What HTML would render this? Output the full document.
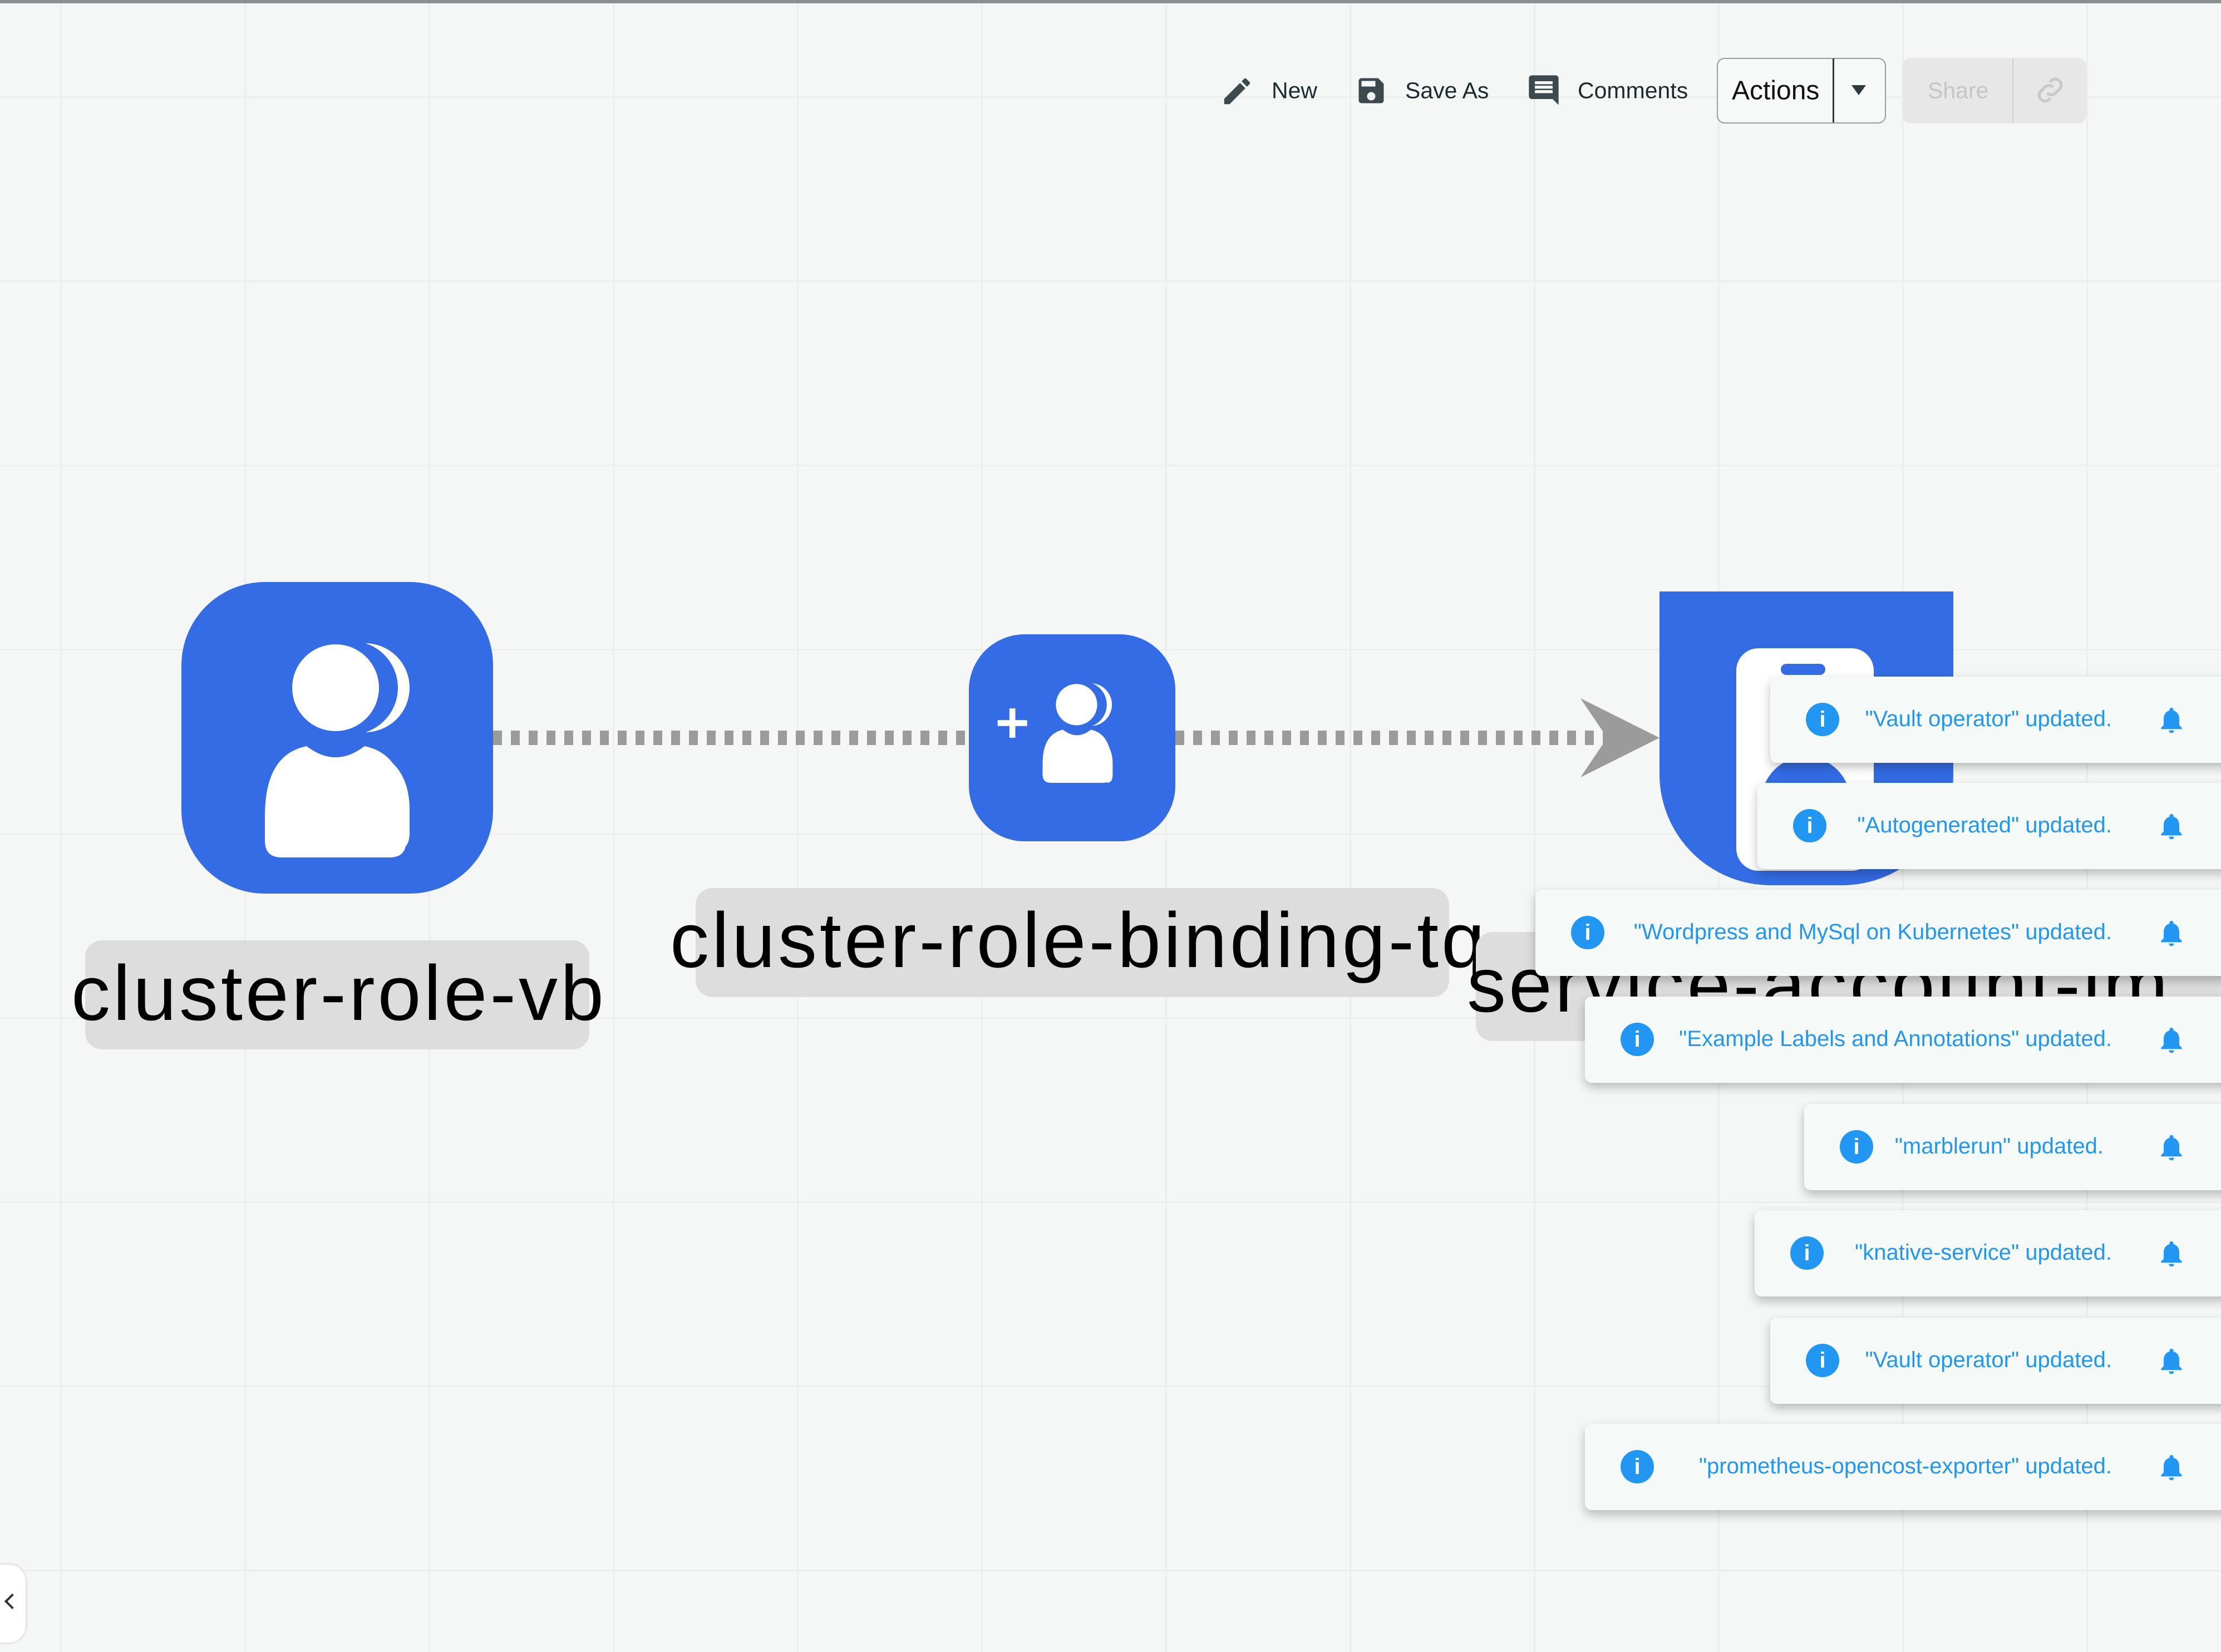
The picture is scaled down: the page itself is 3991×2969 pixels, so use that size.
<!DOCTYPE html>
<html><head><meta charset="utf-8"><style>
html,body{margin:0;padding:0}
body{width:3991px;height:2969px;position:relative;overflow:hidden;background:#f5f7f6;font-family:"Liberation Sans",sans-serif;
background-image:linear-gradient(#ebeeed 3px,transparent 3px),linear-gradient(90deg,#ebeeed 3px,transparent 3px);
background-size:331px 331px;background-position:108px 173px;}
.abs{position:absolute}
.tb{position:absolute;top:163px;transform:translateY(-50%);font-size:41px;color:#1c2a30}
.lbl{position:absolute;background:#dcdddc;border-radius:30px}
.lt{position:absolute;font-size:140px;color:#000;white-space:nowrap;letter-spacing:5px;line-height:1}
.toast{position:absolute;height:155px;right:-40px;background:#f5f9f7;border-radius:12px;box-shadow:0 8px 18px rgba(0,0,0,.25)}
.toast .i{position:absolute;left:64px;top:47px;width:60px;height:60px;border-radius:50%;background:#2196f3;color:#fff;font-size:40px;font-weight:bold;text-align:center;line-height:60px}
.toast .t{position:absolute;right:236px;top:54px;font-size:40px;color:#2196f3;white-space:nowrap}
.toast svg{position:absolute;right:101px;top:48px}
</style></head><body>
<div class="abs" style="left:0;top:0;width:3991px;height:6px;background:#8a8f92"></div>

<!-- toolbar -->
<svg class="abs" style="left:2192px;top:133px" width="62" height="62" viewBox="0 0 24 24"><path fill="#3c4a50" d="M3 17.25V21h3.75L17.8 9.94l-3.75-3.75L3 17.25zM20.7 7.04a1 1 0 000-1.41l-2.34-2.34a1 1 0 00-1.41 0l-1.830 1.83 3.75 3.75 1.83-1.83z"/></svg>
<div class="tb" style="left:2285px">New</div>
<svg class="abs" style="left:2434px;top:133px" width="60" height="60" viewBox="0 0 24 24"><path fill="#3c4a50" d="M17 3H5a2 2 0 00-2 2v14a2 2 0 002 2h14a2 2 0 002-2V7l-4-4zm-5 16a3 3 0 110-6 3 3 0 010 6zm3-10H5V5h10v4z"/></svg>
<div class="tb" style="left:2525px">Save As</div>
<svg class="abs" style="left:2742px;top:130px" width="64" height="64" viewBox="0 0 24 24"><path fill="#3c4a50" d="M21.99 4a2 2 0 00-2-2H4a2 2 0 00-2 2v12a2 2 0 002 2h14l4 4-.01-18zM18 14H6v-2h12v2zm0-3H6V9h12v2zm0-3H6V6h12v2z"/></svg>
<div class="tb" style="left:2835px">Comments</div>
<div class="abs" style="left:3085px;top:104px;width:300px;height:114px;border:2px solid #9a9c9c;border-radius:14px;background:#f7f9f8"></div>
<div class="abs" style="left:3293px;top:105px;width:3px;height:115px;background:#2c3a40"></div>
<div class="tb" style="left:3112px;font-size:48px;color:#111">Actions</div>
<div class="abs" style="left:3327px;top:153px;width:0;height:0;border-left:13px solid transparent;border-right:13px solid transparent;border-top:18px solid #2c3a40"></div>
<div class="abs" style="left:3418px;top:104px;width:331px;height:118px;border-radius:16px;background:#e6e7e6"></div>
<div class="abs" style="left:3616px;top:104px;width:2px;height:118px;background:#d0d1d0"></div>
<div class="tb" style="left:3464px;color:#c4c6c5">Share</div>
<svg class="abs" style="left:3652px;top:130px" width="64" height="64" viewBox="0 0 24 24"><path fill="none" stroke="#c8caca" stroke-width="2" d="M10 14a4 4 0 005.6 0l3-3a4 4 0 00-5.6-5.6l-1.2 1.2M14 10a4 4 0 00-5.6 0l-3 3a4 4 0 005.6 5.6l1.2-1.2"/></svg>

<!-- connectors -->
<svg class="abs" style="left:0;top:0" width="3991" height="2969">
<line x1="886" y1="1326" x2="1740" y2="1326" stroke="#9b9b9b" stroke-width="26" stroke-dasharray="16 16"/>
<line x1="2112" y1="1326" x2="2900" y2="1326" stroke="#9b9b9b" stroke-width="26" stroke-dasharray="16 16"/>
<polygon points="2840,1255 2982,1326 2840,1397 2888,1326" fill="#9b9b9b"/>
</svg>

<!-- node1 -->
<div class="abs" style="left:326px;top:1046px;width:560px;height:560px;border-radius:150px;background:#336ce4"></div>
<svg class="abs" style="left:326px;top:1046px" width="560" height="560" viewBox="0 0 560 560">
<circle cx="330" cy="190" r="80" fill="#fff"/><circle cx="305" cy="190" r="84" fill="#336ce4"/>
<path d="M330 300 q80 20 80 110 v40 q0 30 -20 30 z" fill="#fff"/>
<path d="M310 300 q80 20 80 110 v40 q0 30 -20 30 z" fill="#336ce4"/>
<circle cx="277" cy="190" r="78" fill="#fff"/>
<path d="M150 420 q0-110 75-125 q52 40 104 0 q75 15 75 125 v45 q0 30-30 30 h-194 q-30 0-30-30z" fill="#fff"/>
</svg>
<!-- node2 -->
<div class="abs" style="left:1741px;top:1140px;width:371px;height:372px;border-radius:100px;background:#336ce4"></div>
<svg class="abs" style="left:1741px;top:1140px" width="371" height="372" viewBox="0 0 560 560">
<circle cx="330" cy="190" r="58" fill="#fff"/><circle cx="312" cy="190" r="62" fill="#336ce4"/>
<path d="M330 270 q60 15 60 80 v30 q0 22-15 22z" fill="#fff"/><path d="M315 270 q60 15 60 80 v30 q0 22-15 22z" fill="#336ce4"/>
<circle cx="292" cy="190" r="56" fill="#fff"/>
<path d="M200 350 q0-80 55-92 q38 30 76 0 q55 12 55 92 v30 q0 22-22 22 h-142 q-22 0-22-22z" fill="#fff"/>
<rect x="110" y="200" width="16" height="80" fill="#fff"/><rect x="78" y="232" width="80" height="16" fill="#fff"/>
</svg>
<!-- node3 -->
<div class="abs" style="left:2982px;top:1063px;width:528px;height:528px;border-radius:0 0 200px 200px;background:#336ce4"></div>
<div class="abs" style="left:3120px;top:1165px;width:247px;height:400px;border-radius:40px;background:#fff"></div>
<div class="abs" style="left:3200px;top:1193px;width:80px;height:20px;border-radius:10px;background:#336ce4"></div>
<div class="abs" style="left:3165px;top:1360px;width:160px;height:150px;border-radius:80px 80px 0 0;background:#336ce4"></div>

<!-- labels -->
<div class="lbl" style="left:153px;top:1690px;width:906px;height:196px"></div>
<div class="lt" style="left:128px;top:1715px">cluster-role-vb</div>
<div class="lbl" style="left:1250px;top:1596px;width:1354px;height:196px"></div>
<div class="lt" style="left:1204px;top:1620px">cluster-role-binding-tq</div>
<div class="lbl" style="left:2652px;top:1675px;width:1400px;height:196px"></div>
<div class="lt" style="left:2636px;top:1700px">service-account-im</div>

<!-- toasts -->
<div class="toast" style="left:3181px;top:1216px"><div class="i">i</div><div class="t">"Vault operator" updated.</div><svg width="56" height="60" viewBox="0 0 24 24"><path fill="#2196f3" d="M12 22a2 2 0 002-2h-4a2 2 0 002 2zm6-6v-5c0-3-1.6-5.6-4.5-6.3V4a1.5 1.5 0 00-3 0v.7C7.6 5.4 6 8 6 11v5l-2 2v1h16v-1l-2-2z"/></svg></div>
<div class="toast" style="left:3158px;top:1407px"><div class="i">i</div><div class="t">"Autogenerated" updated.</div><svg width="56" height="60" viewBox="0 0 24 24"><path fill="#2196f3" d="M12 22a2 2 0 002-2h-4a2 2 0 002 2zm6-6v-5c0-3-1.6-5.6-4.5-6.3V4a1.5 1.5 0 00-3 0v.7C7.6 5.4 6 8 6 11v5l-2 2v1h16v-1l-2-2z"/></svg></div>
<div class="toast" style="left:2759px;top:1599px"><div class="i">i</div><div class="t">"Wordpress and MySql on Kubernetes" updated.</div><svg width="56" height="60" viewBox="0 0 24 24"><path fill="#2196f3" d="M12 22a2 2 0 002-2h-4a2 2 0 002 2zm6-6v-5c0-3-1.6-5.6-4.5-6.3V4a1.5 1.5 0 00-3 0v.7C7.6 5.4 6 8 6 11v5l-2 2v1h16v-1l-2-2z"/></svg></div>
<div class="toast" style="left:2848px;top:1791px"><div class="i">i</div><div class="t">"Example Labels and Annotations" updated.</div><svg width="56" height="60" viewBox="0 0 24 24"><path fill="#2196f3" d="M12 22a2 2 0 002-2h-4a2 2 0 002 2zm6-6v-5c0-3-1.6-5.6-4.5-6.3V4a1.5 1.5 0 00-3 0v.7C7.6 5.4 6 8 6 11v5l-2 2v1h16v-1l-2-2z"/></svg></div>
<div class="toast" style="left:3242px;top:1984px"><div class="i">i</div><div class="t" style="right:251px">"marblerun" updated.</div><svg width="56" height="60" viewBox="0 0 24 24"><path fill="#2196f3" d="M12 22a2 2 0 002-2h-4a2 2 0 002 2zm6-6v-5c0-3-1.6-5.6-4.5-6.3V4a1.5 1.5 0 00-3 0v.7C7.6 5.4 6 8 6 11v5l-2 2v1h16v-1l-2-2z"/></svg></div>
<div class="toast" style="left:3153px;top:2175px"><div class="i">i</div><div class="t">"knative-service" updated.</div><svg width="56" height="60" viewBox="0 0 24 24"><path fill="#2196f3" d="M12 22a2 2 0 002-2h-4a2 2 0 002 2zm6-6v-5c0-3-1.6-5.6-4.5-6.3V4a1.5 1.5 0 00-3 0v.7C7.6 5.4 6 8 6 11v5l-2 2v1h16v-1l-2-2z"/></svg></div>
<div class="toast" style="left:3181px;top:2368px"><div class="i">i</div><div class="t">"Vault operator" updated.</div><svg width="56" height="60" viewBox="0 0 24 24"><path fill="#2196f3" d="M12 22a2 2 0 002-2h-4a2 2 0 002 2zm6-6v-5c0-3-1.6-5.6-4.5-6.3V4a1.5 1.5 0 00-3 0v.7C7.6 5.4 6 8 6 11v5l-2 2v1h16v-1l-2-2z"/></svg></div>
<div class="toast" style="left:2848px;top:2559px"><div class="i">i</div><div class="t">"prometheus-opencost-exporter" updated.</div><svg width="56" height="60" viewBox="0 0 24 24"><path fill="#2196f3" d="M12 22a2 2 0 002-2h-4a2 2 0 002 2zm6-6v-5c0-3-1.6-5.6-4.5-6.3V4a1.5 1.5 0 00-3 0v.7C7.6 5.4 6 8 6 11v5l-2 2v1h16v-1l-2-2z"/></svg></div>

<!-- left tab -->
<div class="abs" style="left:-30px;top:2812px;width:76px;height:140px;border-radius:30px;background:#fff;box-shadow:0 0 6px rgba(0,0,0,.2)"></div>
<div class="abs" style="left:12px;top:2868px;width:16px;height:16px;border-left:4px solid #333;border-bottom:4px solid #333;transform:rotate(45deg)"></div>
</body></html>
